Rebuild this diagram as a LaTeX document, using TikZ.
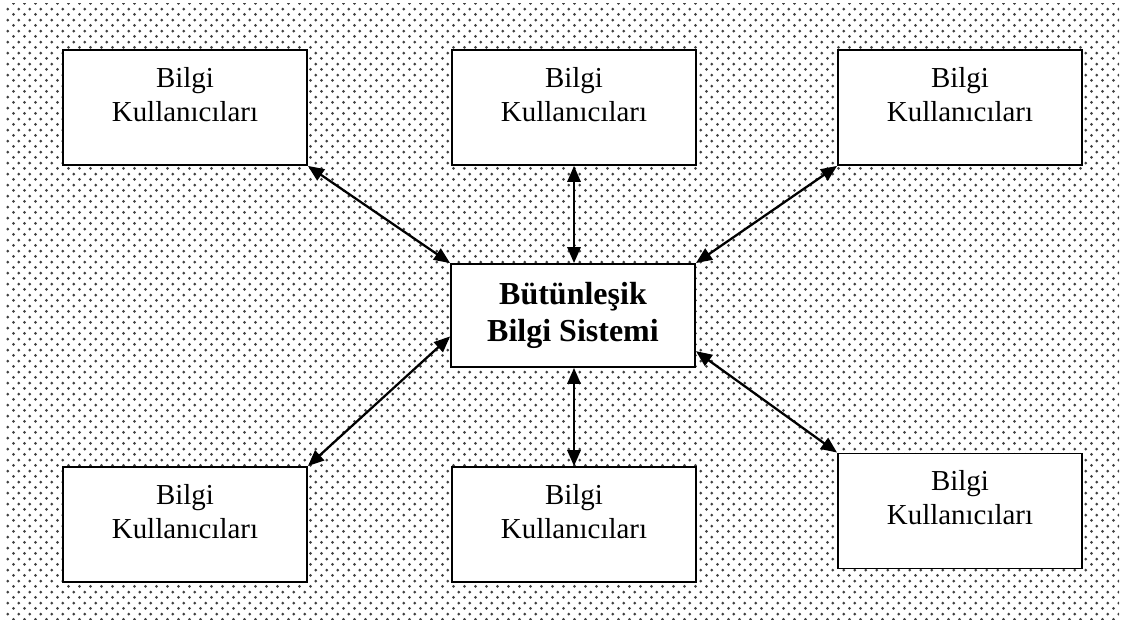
\documentclass[tikz,border=0pt]{standalone}
\usepackage{fontspec}
\setmainfont{Liberation Serif}
\usetikzlibrary{patterns,arrows.meta,calc}

% staggered halftone dots for the backdrop
\pgfdeclarepatternformonly{halftone}{\pgfpointorigin}{\pgfqpoint{8pt}{8.1pt}}{\pgfqpoint{8pt}{8.1pt}}{%
  \pgfpathcircle{\pgfqpoint{2pt}{2pt}}{1.15pt}%
  \pgfpathcircle{\pgfqpoint{6pt}{6.05pt}}{1.15pt}%
  \pgfusepath{fill}%
}

\tikzset{
  userbox/.style={draw=black, fill=white, line width=1.4pt, rectangle,
    minimum width=183pt, minimum height=86.25pt, inner sep=0pt},
  corebox/.style={userbox, minimum height=77.25pt},
  usertext/.style={anchor=north, inner sep=0pt, align=center,
    font=\fontsize{21.7}{25.5}\selectfont},
  coretext/.style={anchor=north, inner sep=0pt, align=center,
    font=\fontsize{24}{27.75}\selectfont\bfseries},
  link/.style={line width=1.7pt, {Triangle[length=12pt,width=10pt]}-{Triangle[length=12pt,width=10pt]}},
}

\begin{document}
\begin{tikzpicture}[x=0.75pt,y=-0.75pt]
  \useasboundingbox (0,0) rectangle (1123,621);
  \fill[white] (0,0) rectangle (1123,621);
  \fill[pattern=halftone, pattern color=black!75] (4,3) rectangle (1119,619);

  % central system
  \node[corebox] (c) at (573,315.5) {};
  \node[coretext] (ct) at ([yshift=-14.5pt]c.north) {Bütünleşik\\Bilgi Sistemi};

  % user boxes
  \node[userbox] (u1) at (185,107.5) {};
  \node[userbox] (u2) at (574,107.5) {};
  \node[userbox] (u3) at (960,107.5) {};
  \node[userbox] (u4) at (185,524.5) {};
  \node[userbox] (u5) at (574,524.5) {};
  \node[userbox] (u6) at (960,511) {};

  \foreach \n in {u1,u2,u3,u4,u5,u6}
    \node[usertext] (\n t) at ([yshift=-13.5pt]\n.north) {Bilgi\\Kullanıcıları};

  % two-way links
  \draw[link] (u1.south east) -- (c.north west);
  \draw[link] (u2.south) -- (u2.south |- c.north);
  \draw[link] (u3.south west) -- (c.north east);
  \draw[link] ($(c.south west)!0.3!(c.north west)$) -- (u4.north east);
  \draw[link] (c.south -| u5.north) -- (u5.north);
  \draw[link] ($(c.south east)!0.16!(c.north east)$) -- (u6.north west);
\end{tikzpicture}
\end{document}
